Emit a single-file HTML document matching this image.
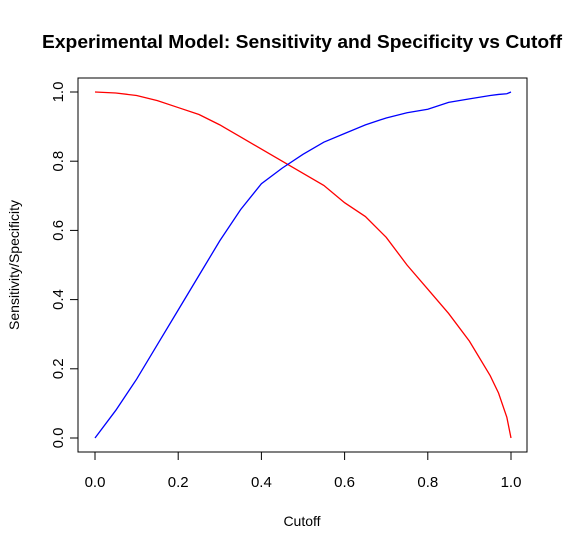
<!DOCTYPE html>
<html><head><meta charset="utf-8"><style>
body{margin:0;background:#fff;}
svg text{font-family:"Liberation Sans",Arial,sans-serif;}
</style></head><body>
<svg width="568" height="550">
<text x="302" y="48" text-anchor="middle" font-size="18" font-weight="bold" textLength="520" lengthAdjust="spacingAndGlyphs">Experimental Model: Sensitivity and Specificity vs Cutoff</text>
<rect x="78" y="78" width="449" height="374" fill="none" stroke="#000" stroke-width="1"/>
<g id="xaxis"></g>
<g id="yaxis"></g>
<text x="302" y="526" text-anchor="middle" font-size="14">Cutoff</text>
<text transform="translate(19,265) rotate(-90)" text-anchor="middle" font-size="14">Sensitivity/Specificity</text>
<g id="series"></g>
</svg>
<script>
const xTicks=[0,0.2,0.4,0.6,0.8,1.0];
const xTickLabels=["0.0","0.2","0.4","0.6","0.8","1.0"];
const yTicks=[0,0.2,0.4,0.6,0.8,1.0];
const yTickLabels=["0.0","0.2","0.4","0.6","0.8","1.0"];
const cutoffs=[0,0.05,0.1,0.15,0.2,0.25,0.3,0.35,0.4,0.45,0.5,0.55,0.6,0.65,0.7,0.75,0.8,0.85,0.9,0.95,0.97,0.99,1];
const specificity=[1,0.997,0.99,0.975,0.955,0.935,0.905,0.87,0.835,0.8,0.765,0.73,0.68,0.64,0.58,0.5,0.43,0.36,0.28,0.18,0.13,0.06,0];
const sensitivity=[0,0.08,0.17,0.27,0.37,0.47,0.57,0.66,0.735,0.78,0.82,0.855,0.88,0.905,0.925,0.94,0.95,0.97,0.98,0.99,0.993,0.995,1];
const X=v=>95+v*416, Y=v=>438-v*346;
const NS="http://www.w3.org/2000/svg";
function mk(t,a,p){const e=document.createElementNS(NS,t);for(const k in a)e.setAttribute(k,a[k]);p.appendChild(e);return e;}
const xa=document.getElementById('xaxis'),ya=document.getElementById('yaxis'),sg=document.getElementById('series');
mk('line',{x1:X(0),x2:X(1),y1:452,y2:452,stroke:'#000'},xa);
xTicks.forEach((t,i)=>{
 const l=mk('line',{x1:X(t),x2:X(t),y1:452,y2:460,stroke:'#000'},xa);
 
 
 const tx=mk('text',{x:X(t),y:487,'text-anchor':'middle','font-size':'15'},xa);
 tx.textContent=xTickLabels[i];
 
 
});
mk('line',{x1:78,x2:78,y1:Y(0),y2:Y(1),stroke:'#000'},ya);
yTicks.forEach((t,i)=>{
 const l=mk('line',{x1:70,x2:78,y1:Y(t),y2:Y(t),stroke:'#000'},ya);
 
 
 const tx=mk('text',{transform:`translate(63,${Y(t)}) rotate(-90)`,'text-anchor':'middle','font-size':'15'},ya);
 tx.textContent=yTickLabels[i];
 
 
});
function line(vals,col,name){
 const p=mk('polyline',{points:cutoffs.map((c,i)=>X(c)+','+Y(vals[i])).join(' '),fill:'none',stroke:col,'stroke-width':'1.3'},sg);
 
 
}
line(specificity,'#ff0000','specificity-line');
line(sensitivity,'#0000ff','sensitivity-line');
</script>
</body></html>
